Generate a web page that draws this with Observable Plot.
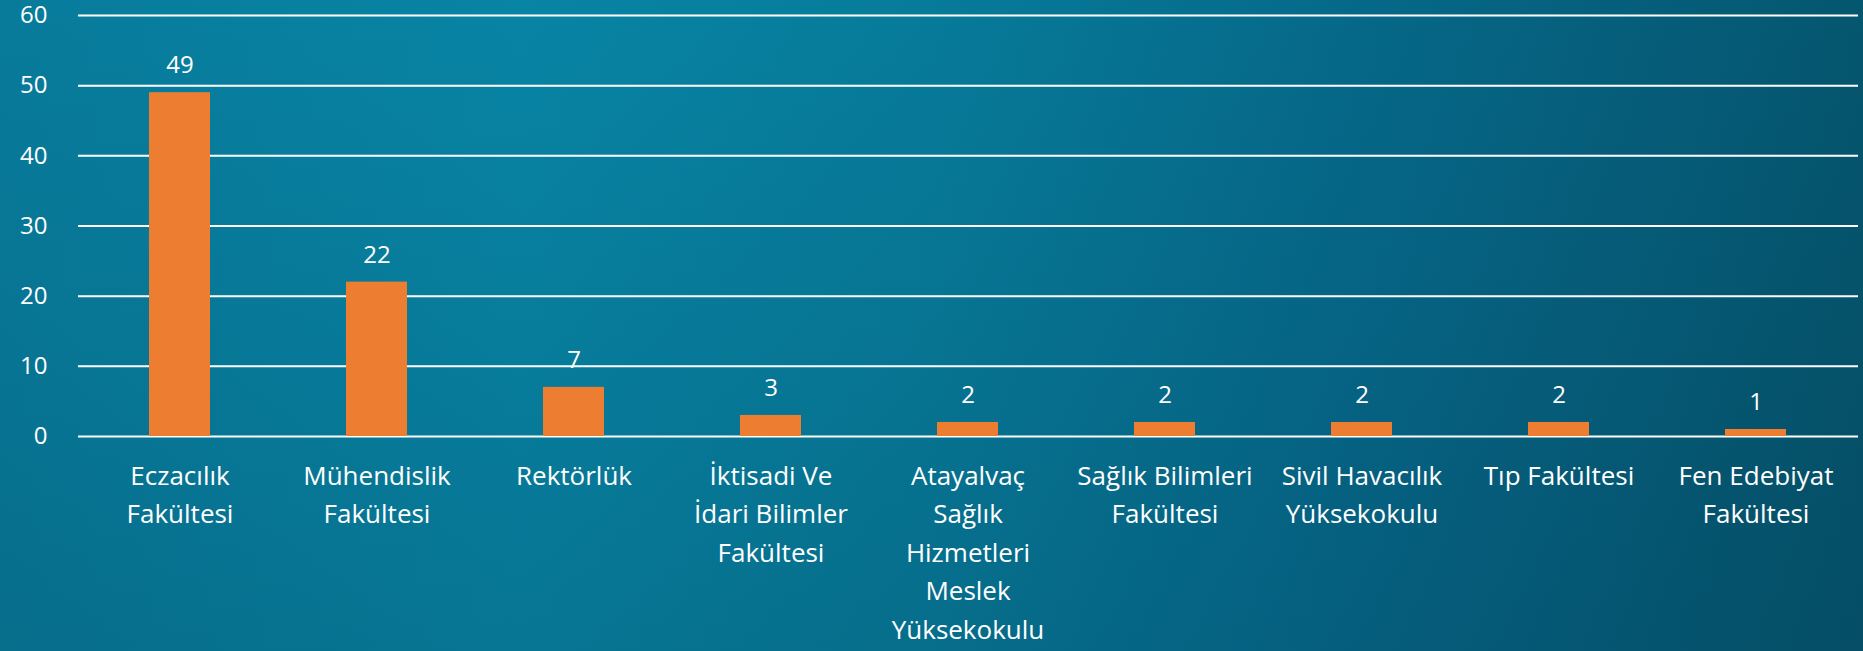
<!DOCTYPE html>
<html>
<head>
<meta charset="utf-8">
<script src="https://cdn.jsdelivr.net/npm/d3@7"></script>
<script src="https://cdn.jsdelivr.net/npm/@observablehq/plot@0.6"></script>
<style>
  html, body { margin: 0; padding: 0; width: 1863px; height: 651px; overflow: hidden; }
  body {
    background:
      linear-gradient(180deg, rgba(0,20,40,0) 0%, rgba(0,20,40,0.13) 100%),
      linear-gradient(90deg, #087b9b 0%, #0884a4 28%, #077b9a 50%, #06698a 72%, #05566f 100%);
  }
  svg { display: block; }
</style>
</head>
<body>
<div id="chart"></div>
<script>
const categories = [
  "Eczacılık Fakültesi",
  "Mühendislik Fakültesi",
  "Rektörlük",
  "İktisadi Ve İdari Bilimler Fakültesi",
  "Atayalvaç Sağlık Hizmetleri Meslek Yüksekokulu",
  "Sağlık Bilimleri Fakültesi",
  "Sivil Havacılık Yüksekokulu",
  "Tıp Fakültesi",
  "Fen Edebiyat Fakültesi"
];
const tickLabels = [
  "Eczacılık\nFakültesi",
  "Mühendislik\nFakültesi",
  "Rektörlük",
  "İktisadi Ve\nİdari Bilimler\nFakültesi",
  "Atayalvaç\nSağlık\nHizmetleri\nMeslek\nYüksekokulu",
  "Sağlık Bilimleri\nFakültesi",
  "Sivil Havacılık\nYüksekokulu",
  "Tıp Fakültesi",
  "Fen Edebiyat\nFakültesi"
];
const values = [49, 22, 7, 3, 2, 2, 2, 2, 1];
const yTicks = [0, 10, 20, 30, 40, 50, 60];

const data = categories.map((c, i) => ({category: c, value: values[i]}));
const labelMap = new Map(categories.map((c, i) => [c, tickLabels[i]]));

const chart = Plot.plot({
  width: 1863,
  height: 651,
  marginLeft: 78,
  marginRight: 5,
  marginTop: 15,
  marginBottom: 215,
  style: {background: "transparent", fontFamily: "'Open Sans', Lato, sans-serif", color: "white", overflow: "visible"},
  x: {domain: categories, paddingInner: 0.69, paddingOuter: 0.345, axis: null},
  y: {domain: [0, 60], axis: null},
  marks: [
    Plot.gridY(yTicks, {stroke: "white", strokeOpacity: 1, strokeWidth: 2}),
    Plot.barY(data, {x: "category", y: "value", fill: "#ED7D31"}),
    Plot.text(data, {x: "category", y: "value", text: d => String(d.value), dy: -27, fill: "white", fontSize: 24}),
    Plot.axisY(yTicks, {tickSize: 0, tickPadding: 31, fontSize: 24, fill: "white", label: null}),
    Plot.axisX({tickSize: 0, tickPadding: 21, tickFormat: d => labelMap.get(d), fontSize: 26, lineHeight: 1.48, fill: "white", label: null})
  ]
});
document.getElementById("chart").appendChild(chart);
</script>
</body>
</html>
